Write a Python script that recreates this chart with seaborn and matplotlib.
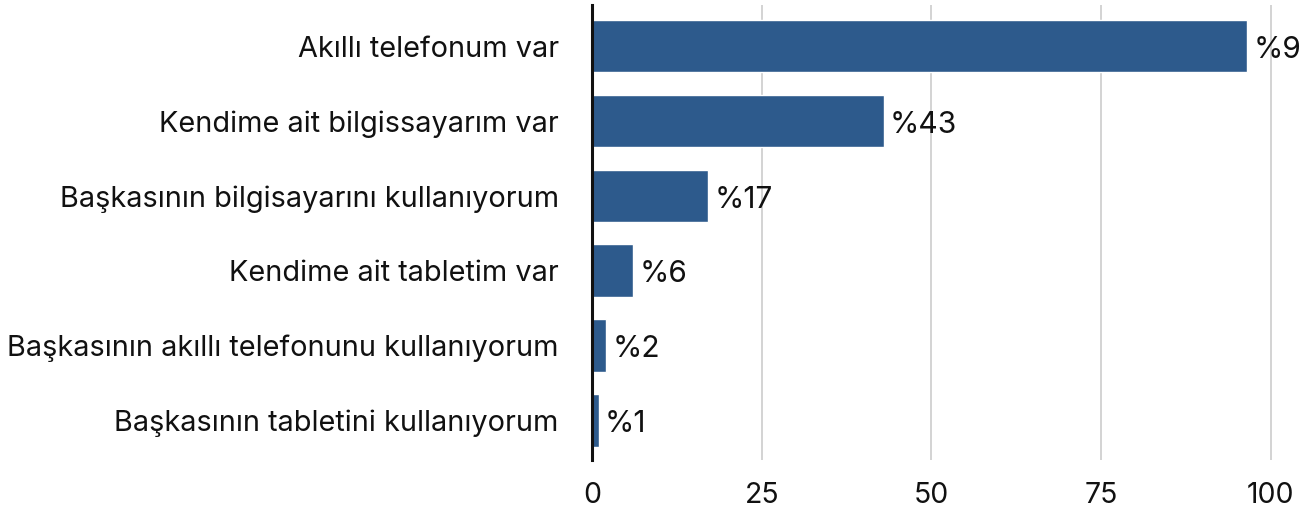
import matplotlib.pyplot as plt
import seaborn as sns
import pandas as pd

# ================= data =================
categories = [
    'Akıllı telefonum var',
    'Kendime ait bilgissayarım var',
    'Başkasının bilgisayarını kullanıyorum',
    'Kendime ait tabletim var',
    'Başkasının akıllı telefonunu kullanıyorum',
    'Başkasının tabletini kullanıyorum',
]
values = [96.5, 43, 17.1, 6.1, 2.1, 1.0]
value_labels = ['%96', '%43', '%17', '%6', '%2', '%1']
x_ticks = [0, 25, 50, 75, 100]

BAR_COLOR = '#2d5a8c'
TEXT_COLOR = '#111111'

df = pd.DataFrame({'kategori': categories, 'deger': values})

sns.set_style('white')
plt.rcParams['font.family'] = ['Inter', 'DejaVu Sans']

fig = plt.figure(figsize=(13, 5.08), dpi=100)
ax = fig.add_axes([592 / 1300, 48 / 508, 1 - 592 / 1300, 455 / 508])

sns.barplot(data=df, x='deger', y='kategori', orient='h', color=BAR_COLOR,
            saturation=1, width=0.7, ax=ax, zorder=3)

# değer etiketleri (sağ kenarda kesilen %96 referansta da kesik)
for patch, lab in zip(ax.patches, value_labels):
    ax.text(patch.get_width() + 0.9, patch.get_y() + patch.get_height() / 2 + 0.05, lab,
            va='center', ha='left', fontsize=21.5, color=TEXT_COLOR)

ax.set_xlim(0, 104.3)
ax.set_ylim(5.53, -0.55)
ax.set_xticks(x_ticks)
ax.set_xticklabels([str(t) for t in x_ticks], fontsize=20.5, color=TEXT_COLOR)
ax.tick_params(axis='y', labelsize=20.8, labelcolor=TEXT_COLOR, length=0, pad=24)
ax.tick_params(axis='x', length=0, pad=16)
ax.set_xlabel('')
ax.set_ylabel('')

ax.grid(axis='x', color='#cccccc', linewidth=1.2, zorder=0)
for side in ['top', 'right', 'bottom']:
    ax.spines[side].set_visible(False)
ax.spines['left'].set_color(TEXT_COLOR)
ax.spines['left'].set_linewidth(2.2)
ax.spines['left'].set_zorder(4)

fig.savefig('out.png', dpi=100)
plt.close(fig)
